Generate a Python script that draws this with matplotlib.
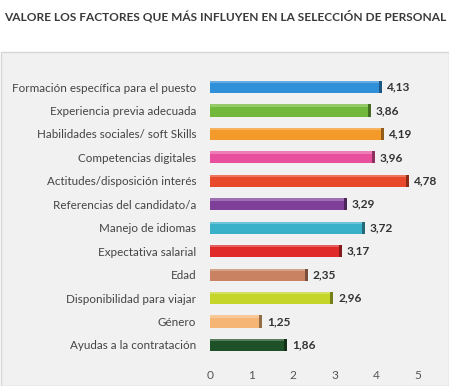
import matplotlib.pyplot as plt
import matplotlib.colors as mcolors
from matplotlib.patches import Rectangle
import numpy as np

plt.rcParams['font.family'] = ['Lato', 'DejaVu Sans']

factores = ['Formación específica para el puesto', 'Experiencia previa adecuada',
            'Habilidades sociales/ soft Skills', 'Competencias digitales',
            'Actitudes/disposición interés', 'Referencias del candidato/a',
            'Manejo de idiomas', 'Expectativa salarial', 'Edad',
            'Disponibilidad para viajar', 'Género', 'Ayudas a la contratación']
valores = [4.13, 3.86, 4.19, 3.96, 4.78, 3.29, 3.72, 3.17, 2.35, 2.96, 1.25, 1.86]
colores = ['#2f8fd8', '#72b83a', '#f39a2a', '#e8509e', '#e8492a', '#7d3f98',
           '#3bb0c9', '#e02a2a', '#c98363', '#c5d52a', '#f5b574', '#1e5128']
etiquetas = ['4,13', '3,86', '4,19', '3,96', '4,78', '3,29', '3,72', '3,17',
             '2,35', '2,96', '1,25', '1,86']

W, H = 449, 386
fig = plt.figure(figsize=(W/100, H/100), dpi=100)
fig.patch.set_facecolor('white')

# gray panel behind the chart
fig.patches.append(Rectangle((0.003, 0.0), 0.997, (H-52)/H, transform=fig.transFigure,
                             facecolor='#f1f1f1', edgecolor='#d6d6d6', lw=1, zorder=-5))

fig.text(4/W, 1-16/H, 'VALORE LOS FACTORES QUE MÁS INFLUYEN EN LA SELECCIÓN DE PERSONAL',
         fontsize=8.55, fontweight='bold', color='#3a3a3a', va='center', ha='left')

ax = fig.add_axes([210/W, 1-359/H, (418-210)/W, (359-73)/H])
ax.set_zorder(2)
ax.patch.set_alpha(0)
y = np.arange(len(factores))
h = 0.52
ax.barh(y, valores, height=h, color=colores, zorder=2)
# darker end strip for the 3D look
dark = [mcolors.to_hex(np.array(mcolors.to_rgb(c))*0.6) for c in colores]
ax.barh(y, [0.07]*len(y), left=np.array(valores)-0.07, height=h, color=dark, zorder=3)
# top highlight
light = [mcolors.to_hex(1-(1-np.array(mcolors.to_rgb(c)))*0.75) for c in colores]
ax.barh(y-h/2+0.05, np.array(valores)-0.07, height=0.1, color=light, zorder=3)

for yi, v, t in zip(y, valores, etiquetas):
    ax.text(v+0.12, yi, t, va='center', ha='left', fontsize=8.6, fontweight='bold',
            color='#333333', clip_on=False)

ax.set_xlim(0, 5)
ax.set_ylim(11.6, -0.6)
ax.set_yticks(y)
ax.set_yticklabels(factores, fontsize=8.4, color='#444444')
ax.set_xticks(range(6))
ax.tick_params(axis='x', labelsize=8.6, colors='#555555', length=0, pad=8)
ax.tick_params(axis='y', length=0, pad=10)
for s in ax.spines.values():
    s.set_visible(False)

fig.savefig('out.png', dpi=100)
